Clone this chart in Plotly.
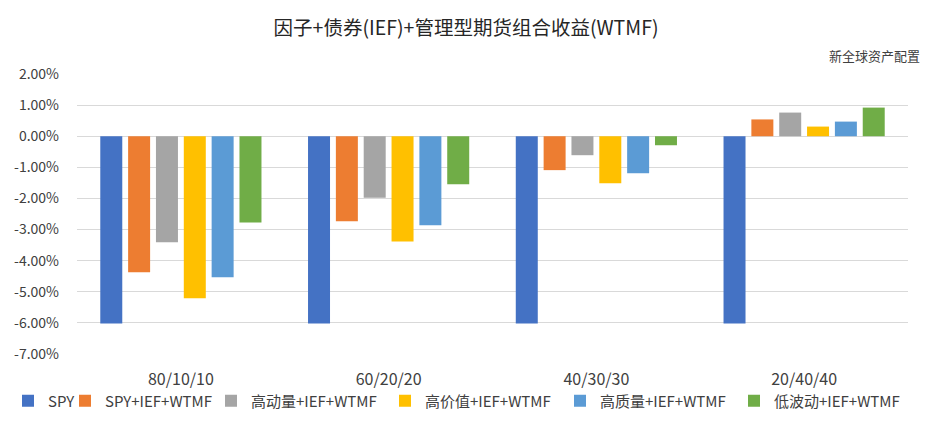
import plotly.graph_objects as go

categories = ["80/10/10", "60/20/20", "40/30/30", "20/40/40"]
series_names = ["SPY", "SPY+IEF+WTMF", "高动量+IEF+WTMF", "高价值+IEF+WTMF", "高质量+IEF+WTMF", "低波动+IEF+WTMF"]
spy = [-6.02, -6.02, -6.02, -6.02]
spy_ief_wtmf = [-4.37, -2.73, -1.09, 0.54]
momentum = [-3.41, -1.98, -0.61, 0.76]
value = [-5.21, -3.38, -1.51, 0.31]
quality = [-4.53, -2.86, -1.19, 0.47]
low_vol = [-2.77, -1.54, -0.29, 0.92]
y_ticks = [2, 1, 0, -1, -2, -3, -4, -5, -6, -7]

series_values = [spy, spy_ief_wtmf, momentum, value, quality, low_vol]
colors = ["#4472C4", "#ED7D31", "#A5A5A5", "#FFC000", "#5B9BD5", "#70AD47"]
# left edge (px) of each legend entry's text
legend_text_x = [40, 97, 243, 417, 592, 766]

font_family = "Noto Sans CJK SC, Microsoft YaHei, sans-serif"
W, H = 931, 430

fig = go.Figure()
legend_ids = ["legend"] + [f"legend{i}" for i in range(2, 7)]
for name, vals, c, lid in zip(series_names, series_values, colors, legend_ids):
    fig.add_trace(go.Bar(
        x=categories, y=vals, name=name, legend=lid,
        marker=dict(color=c, line=dict(width=0)),
        hovertemplate="%{x}: %{y:.2f}%<extra>" + name + "</extra>",
    ))

legend_layouts = {}
for lid, tx in zip(legend_ids, legend_text_x):
    legend_layouts[lid] = dict(
        orientation="h", xref="container", x=max(tx - 40, 0) / W, xanchor="left",
        yref="container", y=1 - 393 / H, yanchor="middle",
        font=dict(size=15, color="#404040"), itemwidth=30,
        bgcolor="rgba(0,0,0,0)")

fig.update_layout(
    width=W, height=H,
    paper_bgcolor="white", plot_bgcolor="white",
    margin=dict(l=69, r=31, t=66, b=84, autoexpand=False),
    barmode="group", bargap=0.196, bargroupgap=0.21,
    font=dict(family=font_family, color="#404040", size=14),
    title=dict(text="因子+债券(IEF)+管理型期货组合收益(WTMF)", xref="container", x=0.492,
               xanchor="center", yref="container", y=1 - 20 / H, yanchor="middle",
               font=dict(size=19.5, color="#262626")),
    showlegend=True,
    annotations=[dict(text="新全球资产配置", xref="paper", yref="paper",
                      x=(914 - 69) / 831, y=1 + (66 - 47) / 280, xanchor="right", yanchor="middle",
                      showarrow=False, font=dict(size=13, color="#404040"))],
    **legend_layouts,
)
fig.update_xaxes(showgrid=False, showline=False, zeroline=False, ticks="",
                 ticklabelstandoff=14,
                 tickfont=dict(size=16, color="#404040"))
fig.update_yaxes(range=[-7, 2], tickvals=y_ticks,
                 ticktext=[f"{v:.2f}%" for v in y_ticks],
                 showgrid=True, gridcolor="#D9D9D9", gridwidth=1,
                 zeroline=True, zerolinecolor="#D9D9D9", zerolinewidth=1,
                 showline=False, ticks="", ticklabelstandoff=17,
                 tickfont=dict(size=14, color="#404040"))

fig.write_html("out.html")
